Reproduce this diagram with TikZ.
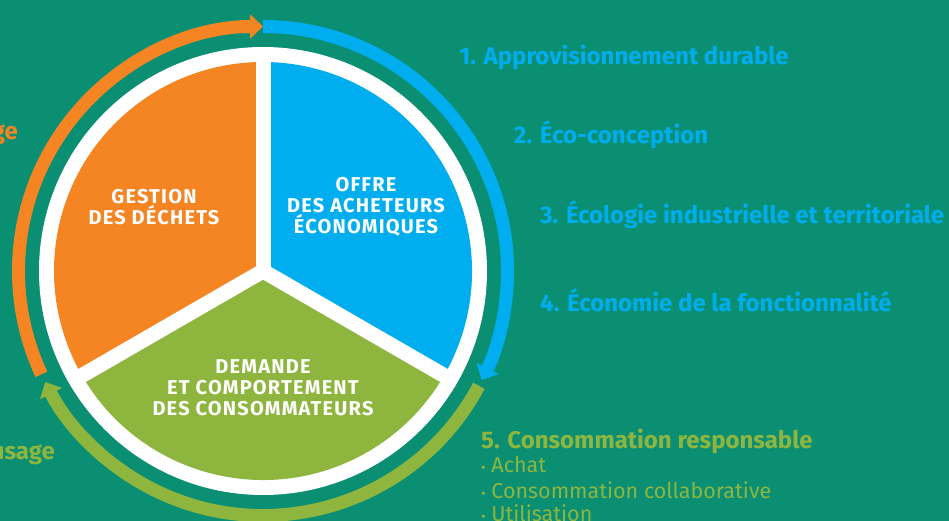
\documentclass[tikz,border=0pt]{standalone}
\usepackage{fontspec}
\setmainfont{Fira Sans}
\usetikzlibrary{arrows.meta}
\definecolor{bgteal}{HTML}{0A8F73}
\definecolor{segorange}{HTML}{F58423}
\definecolor{segblue}{HTML}{00AEEF}
\definecolor{seggreen}{HTML}{8EB63F}
\tikzset{
  seglabel/.style={text=white, align=center, inner sep=0pt,
    font=\bfseries\fontsize{20}{21}\selectfont\addfontfeature{LetterSpace=6}},
  cyclearc/.style={line width=13pt, -{Triangle[length=13pt,width=24pt]}},
  divider/.style={white, line width=15pt},
  heading/.style={anchor=west, inner sep=0pt, font=\bfseries\fontsize{24}{26}\selectfont},
  subitem/.style={anchor=west, inner sep=0pt, text=seggreen, font=\fontsize{21.5}{24}\selectfont},
}
\newcommand{\itemdot}{{\fontsize{14}{14}\selectfont•}}
\begin{document}
\begin{tikzpicture}[x=1pt,y=1pt]
  % background
  \fill[bgteal] (-263,-250) rectangle (686,271);
  \useasboundingbox (-263,-250) rectangle (686,271);
  \coordinate (c) at (0,0);
  % white disc behind the three sectors
  \fill[white] (c) circle (224);
  \fill[segorange] (c) -- (90:209) arc (90:210:209) -- cycle;
  \fill[segblue] (c) -- (-30:209) arc (-30:90:209) -- cycle;
  \fill[seggreen] (c) -- (210:209) arc (210:330:209) -- cycle;
  \draw[divider] (c) -- (90:216);
  \draw[divider] (c) -- (210:216);
  \draw[divider] (c) -- (330:216);
  % outer cycle arrows
  \draw[cyclearc, segorange] (205:244.5) arc (205:90:244.5);
  \draw[cyclearc, segblue] (90:244.5) arc (90:-26.5:244.5);
  \draw[cyclearc, seggreen] (-28:244.5) arc (-28:-153:244.5);
  % sector labels
  \node[seglabel] (gestion) at (-109,64) {GESTION\\DES DÉCHETS};
  \node[seglabel] (offre) at (103,64) {OFFRE\\DES ACHETEURS\\ÉCONOMIQUES};
  \node[seglabel] (demande) at (0,-117) {DEMANDE\\ET COMPORTEMENT\\DES CONSOMMATEURS};
  % right-hand list
  \node[heading, text=segblue] (h1) at (196,214) {1. Approvisionnement durable};
  \node[heading, text=segblue] (h2) at (251,136) {2. Éco-conception};
  \node[heading, text=segblue] (h3) at (277,56) {3. Écologie industrielle et territoriale};
  \node[heading, text=segblue] (h4) at (277,-29) {4. Économie de la fonctionnalité};
  \node[heading, text=seggreen] (h5) at (218,-170) {5. Consommation responsable};
  \node[subitem] (s1) at (218,-194) {\itemdot\ Achat};
  \node[subitem] (s2) at (218,-219) {\itemdot\ Consommation collaborative};
  \node[subitem] (s3) at (218,-242) {\itemdot\ Utilisation};
  % left-hand labels
  \node[heading, anchor=east, text=segorange] (l1) at (-245,136) {ge};
  \node[heading, anchor=east, text=seggreen] (l2) at (-208,-184) {usage};
\end{tikzpicture}
\end{document}
